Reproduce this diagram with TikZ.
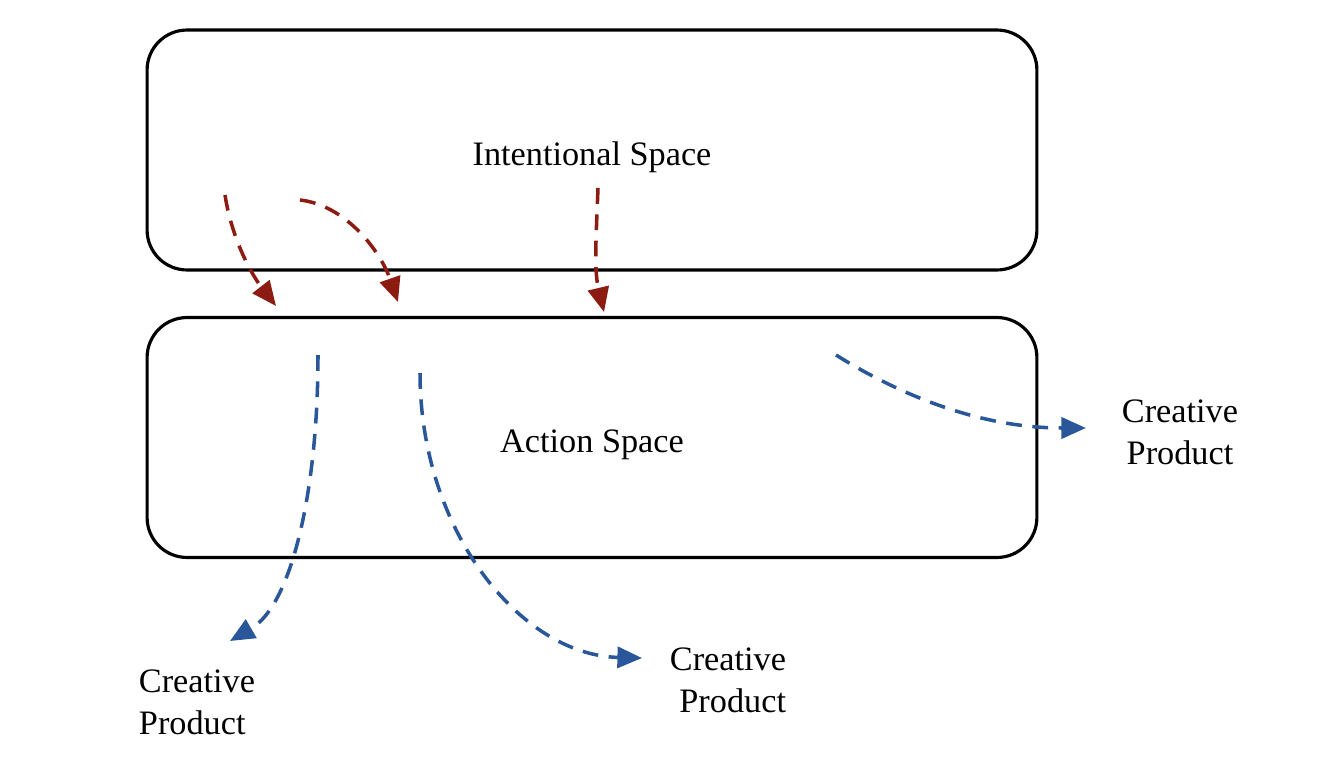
\documentclass[tikz,border=0pt]{standalone}
\usepackage{fontspec}
\setmainfont{Liberation Serif}
\usepackage{tikz}
\usetikzlibrary{arrows.meta}
\usetikzlibrary{positioning}
\definecolor{mred}{rgb}{0.55, 0.11, 0.07}
\definecolor{mblue}{rgb}{0.16, 0.34, 0.60}

\tikzset{
  spacebox/.style={draw, line width=1.8pt, rounded corners=0.8cm,
    minimum width=17.8cm, minimum height=4.8cm},
  intentarrow/.style={mred, line width=2pt, dash pattern=on 9pt off 6pt,
    -{Triangle[length=14pt, width=12pt]}},
  productarrow/.style={mblue, line width=2pt, dash pattern=on 9pt off 6pt,
    -{Triangle[length=14pt, width=12pt]}}
}

\begin{document}
\begin{tikzpicture}[x=0.02cm, y=-0.02cm, font=\fontsize{19.5}{24}\selectfont]
    \useasboundingbox (0, 0) rectangle (1320, 764);

    % the two spaces
    \node [spacebox] (intent) at (592, 150) {};
    \node [spacebox] (action) at (592, 437.5) {};
    \node (intentlabel) at (592, 157) {Intentional Space};
    \node (actionlabel) at (592, 445) {Action Space};

    % creative products
    \node [align=center] (prodright) at (1180, 432) {Creative\\Product};
    \node [align=right] (prodmid) at (728, 680) {Creative\\Product};
    \node [align=left] (prodleft) at (197, 702) {Creative\\Product};

    % starts and ends of the arrows
    \coordinate (i1) at (225, 195);
    \coordinate (i2) at (300, 200);
    \coordinate (i3) at (598, 188);
    \coordinate (a1) at (276, 306);
    \coordinate (a2) at (398, 302);
    \coordinate (a3) at (604, 312);
    \coordinate (s1) at (318, 355);
    \coordinate (s2) at (420, 373);
    \coordinate (s3) at (836, 355);
    \coordinate (e1) at (230, 641);
    \coordinate (e2) at (642, 658);
    \coordinate (e3) at (1086, 428);

    \draw [intentarrow] (i1) .. controls (232, 240) and (252, 275) .. (a1);
    \draw [intentarrow] (i2) .. controls (345, 205) and (380, 250) .. (a2);
    \draw [intentarrow] (i3) .. controls (596, 240) and (594, 270) .. (a3);

    \draw [productarrow] (s1) .. controls (318, 490) and (292, 605) .. (e1);
    \draw [productarrow] (s2) .. controls (420, 530) and (520, 655) .. (e2);
    \draw [productarrow] (s3) .. controls (900, 395) and (980, 428) .. (e3);
  \end{tikzpicture}
\end{document}
